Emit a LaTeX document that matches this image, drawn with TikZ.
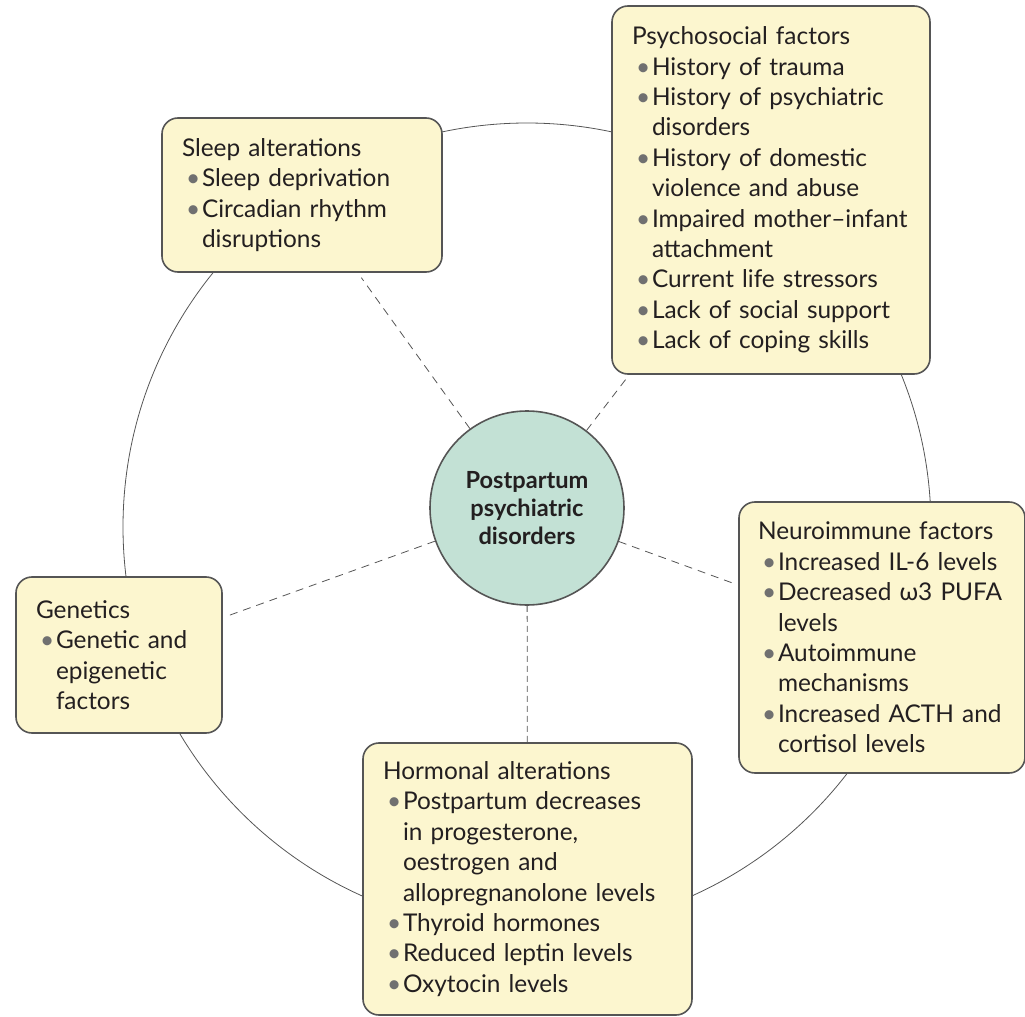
\documentclass[tikz,border=0pt]{standalone}
\usepackage{fontspec}
\setmainfont{Lato}
\usepackage{tikz}
\usetikzlibrary{positioning}
\definecolor{boxfill}{HTML}{FCF6CF}
\definecolor{boxline}{HTML}{555555}
\definecolor{hubfill}{HTML}{C3E1D5}
\definecolor{bulgray}{HTML}{707070}
\definecolor{txt}{HTML}{231F20}
\newcommand{\bul}{\hspace*{2pt}\makebox[8pt][l]{\textcolor{bulgray}{\textbullet}}}
\newcommand{\ind}{\hspace*{10pt}}

\begin{document}
\begin{tikzpicture}
	[x=0.5pt, y=-0.5pt,
	 bx/.style={draw=boxline, thick, rectangle, rounded corners=8pt, fill=boxfill,
	                    align=left, inner xsep=10pt, text=txt,
	                    font=\fontsize{12.2}{15.2}\selectfont},
	 hub/.style={draw=boxline, thick, circle, fill=hubfill, align=center,
	                    minimum size=97pt, inner sep=0pt, text=txt,
	                    font=\bfseries\fontsize{11.8}{14.2}\selectfont},
	 link/.style={draw=boxline, dashed, dash pattern=on 4pt off 3pt, thin}]
	\useasboundingbox (0,0) rectangle (1025,1017);
	\draw[boxline, thin] (527,527) circle [radius=202pt];

	\node[hub] (c) at (527,508) {Postpartum\\psychiatric\\disorders};

	\node[bx, text width=120pt, minimum height=77pt] (sleep) at (302,195)
		{Sleep alterations\\ \bul Sleep deprivation\\ \bul Circadian rhythm\\ \ind disruptions};
	\node[bx, text width=139pt, minimum height=184pt] (psych) at (771,190)
		{Psychosocial factors\\ \bul History of trauma\\ \bul History of psychiatric\\ \ind disorders\\
		 \bul History of domestic\\ \ind violence and abuse\\ \bul Impaired mother--infant\\ \ind attachment\\
		 \bul Current life stressors\\ \bul Lack of social support\\ \bul Lack of coping skills};
	\node[bx, text width=124pt, inner xsep=9.5pt, minimum height=135.5pt] (neuro) at (882,637.5)
		{Neuroimmune factors\\ \bul Increased IL-6 levels\\ \bul Decreased ω3 PUFA\\ \ind levels\\
		 \bul Autoimmune\\ \ind mechanisms\\ \bul Increased ACTH and\\ \ind cortisol levels};
	\node[bx, text width=83pt, minimum height=78pt] (gen) at (119,655)
		{Genetics\\ \bul Genetic and\\ \ind epigenetic\\ \ind factors};
	\node[bx, text width=144.5pt, minimum height=136pt] (horm) at (527.5,879)
		{Hormonal alterations\\ \bul Postpartum decreases\\ \ind in progesterone,\\ \ind oestrogen and\\
		 \ind allopregnanolone levels\\ \bul Thyroid hormones\\ \bul Reduced leptin levels\\ \bul Oxytocin levels};

	\draw[link, shorten >=3pt] (c) -- (sleep);
	\draw[link, shorten >=2pt] (c) -- (psych);
	\draw[link, shorten >=2pt] (c) -- (neuro);
	\draw[link, shorten >=3pt] (c) -- (gen);
	\draw[link, dash pattern=on 3pt off 2pt] (c) -- (horm);
\end{tikzpicture}
\end{document}
